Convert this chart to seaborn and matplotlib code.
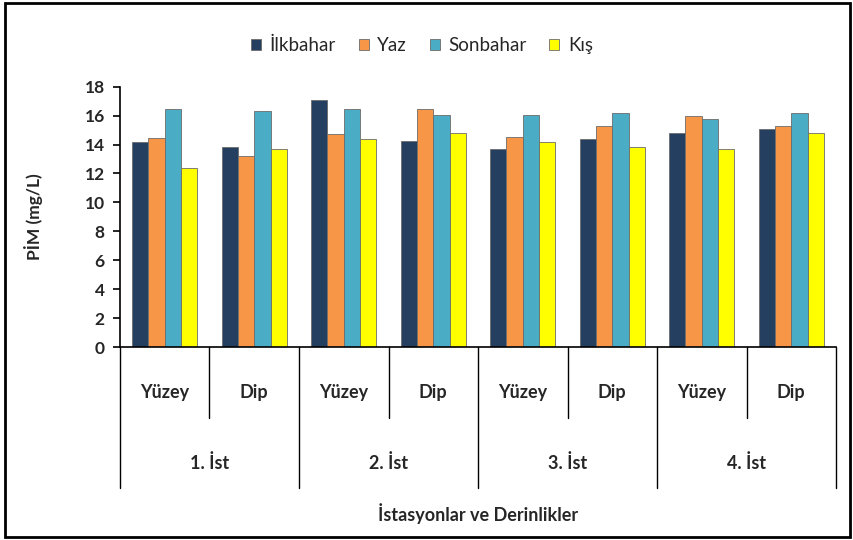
import matplotlib
matplotlib.use("Agg")
import matplotlib.pyplot as plt
import matplotlib.transforms as mtransforms
from matplotlib.patches import Rectangle
import seaborn as sns
import pandas as pd

stations = ["1. İst", "2. İst", "3. İst", "4. İst"]
depths = ["Yüzey", "Dip"]
seasons = ["İlkbahar", "Yaz", "Sonbahar", "Kış"]

ilkbahar = [14.2, 13.85, 17.1, 14.25, 13.7, 14.4, 14.8, 15.05]
yaz      = [14.45, 13.2, 14.7, 16.45, 14.55, 15.25, 15.95, 15.25]
sonbahar = [16.45, 16.3, 16.45, 16.05, 16.05, 16.2, 15.8, 16.2]
kis      = [12.35, 13.7, 14.4, 14.8, 14.15, 13.85, 13.7, 14.8]

colors = ["#243F60", "#F79646", "#4BACC6", "#FFFF00"]

cats = [f"{s}|{d}" for s in stations for d in depths]
rows = []
for name, vals in zip(seasons, [ilkbahar, yaz, sonbahar, kis]):
    for c, v in zip(cats, vals):
        rows.append({"cat": c, "season": name, "val": v})
df = pd.DataFrame(rows)

sns.set_theme(style="white")
plt.rcParams["font.family"] = ["Lato", "DejaVu Sans"]

fig = plt.figure(figsize=(8.54, 5.4), dpi=100)
ax = fig.add_axes([0.1405, 0.3574, 0.8385, 0.482])

sns.barplot(data=df, x="cat", y="val", hue="season", order=cats,
            hue_order=seasons, palette=colors, saturation=1, width=0.73, gap=0.0,
            edgecolor="#6b6b6b", linewidth=0.6, ax=ax, errorbar=None)

ax.set_ylim(0, 18)
ax.set_xlim(-0.5, len(cats) - 0.5)
ax.set_yticks(range(0, 19, 2))
ax.set_yticklabels([str(v) for v in range(0, 19, 2)], fontsize=12.5, fontweight="bold")
ax.tick_params(axis="y", direction="out", length=5, width=1.2, color="black", pad=6, left=True)
ax.set_xticks([])
ax.set_xlabel("")
ax.set_ylabel("PİM (mg/L)", fontsize=12.5, fontweight="bold", labelpad=30)
for s in ["top", "right"]:
    ax.spines[s].set_visible(False)
for s in ["left", "bottom"]:
    ax.spines[s].set_color("black")
    ax.spines[s].set_linewidth(1.2)

trans = mtransforms.blended_transform_factory(ax.transData, ax.transAxes)
# separators
for k in range(len(cats) + 1):
    x = k - 0.5
    low = -0.542 if k % 2 == 0 else -0.273
    ax.plot([x, x], [0, low], transform=trans, color="black", lw=1.0, clip_on=False)
for i, c in enumerate(cats):
    ax.text(i, -0.173, c.split("|")[1], transform=trans, ha="center", va="center",
            fontsize=13, fontweight="bold")
for j, s in enumerate(stations):
    ax.text(2 * j + 0.5, -0.446, s, transform=trans, ha="center", va="center",
            fontsize=13, fontweight="bold")
ax.text(3.5, -0.638, "İstasyonlar ve Derinlikler", transform=trans, ha="center",
        va="center", fontsize=13, fontweight="bold")

handles, labels = ax.get_legend_handles_labels()
ax.legend_.remove()
fig.legend(handles, labels, loc="center", bbox_to_anchor=(0.494, 0.915), ncol=4,
           frameon=False, fontsize=13.5, handlelength=0.55, handleheight=0.55,
           handletextpad=0.45, columnspacing=1.2)

fig.add_artist(Rectangle((0.006, 0.006), 0.989, 0.988, transform=fig.transFigure,
                         fill=False, edgecolor="black", linewidth=2))

fig.savefig("out.png", dpi=100)
